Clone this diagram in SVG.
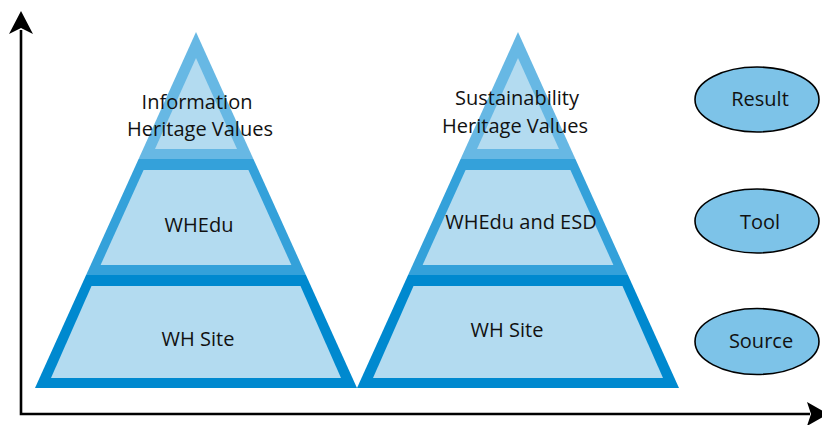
<svg xmlns="http://www.w3.org/2000/svg" width="822" height="425" viewBox="0 0 822 425">
<style>
.l1{fill:#67b8e4}
.l2{fill:#34a1da}
.l3{fill:#0089cf}
.in{fill:#b3dbf0}
.t{font-family:"Open Sans","Liberation Sans",sans-serif;font-size:20px;fill:#111;text-anchor:middle}
.ell{fill:#7dc3e8;stroke:#000;stroke-width:1.6}
.ax{stroke:#000;stroke-width:2.6;fill:none}
</style>
<defs>
<g id="pyr">
<polygon class="l1" points="196,32 253.4,159 138.6,159"/>
<polygon class="in" points="196,58 237,149 155,149"/>
<polygon class="l2" points="138.6,159 253.4,159 305.9,275 86.1,275"/>
<polygon class="in" points="143.6,170 248.4,170 291.4,265 100.6,265"/>
<polygon class="l3" points="86.1,275 305.9,275 357,388 35,388"/>
<polygon class="in" points="91.5,286 300.5,286 341,378 51,378"/>
</g>
</defs>
<g id="connectors">
<path class="ax" d="M21,30 V414 H810"/>
<path d="M21,11 L33,34 L21,28 L9,34 Z" fill="#000"/>
<path d="M828,414 L807,402 L811,414 L807,426 Z" fill="#000"/>
</g>
<g id="pyramid1">
<use href="#pyr"/>
<text class="t" x="197" y="109">Information</text>
<text class="t" x="200" y="136">Heritage Values</text>
<text class="t" x="199" y="232">WHEdu</text>
<text class="t" x="198" y="346">WH Site</text>
</g>
<g id="pyramid2">
<use href="#pyr" x="322"/>
<text class="t" x="517" y="105">Sustainability</text>
<text class="t" x="515" y="133">Heritage Values</text>
<text class="t" x="521" y="229">WHEdu and ESD</text>
<text class="t" x="507" y="337">WH Site</text>
</g>
<g id="result">
<ellipse class="ell" cx="757" cy="99.5" rx="62" ry="32.5"/>
<text class="t" x="760" y="106">Result</text>
</g>
<g id="tool">
<ellipse class="ell" cx="757" cy="221" rx="62" ry="32"/>
<text class="t" x="760" y="229">Tool</text>
</g>
<g id="source">
<ellipse class="ell" cx="757" cy="341.5" rx="62" ry="33"/>
<text class="t" x="761" y="348">Source</text>
</g>
</svg>
